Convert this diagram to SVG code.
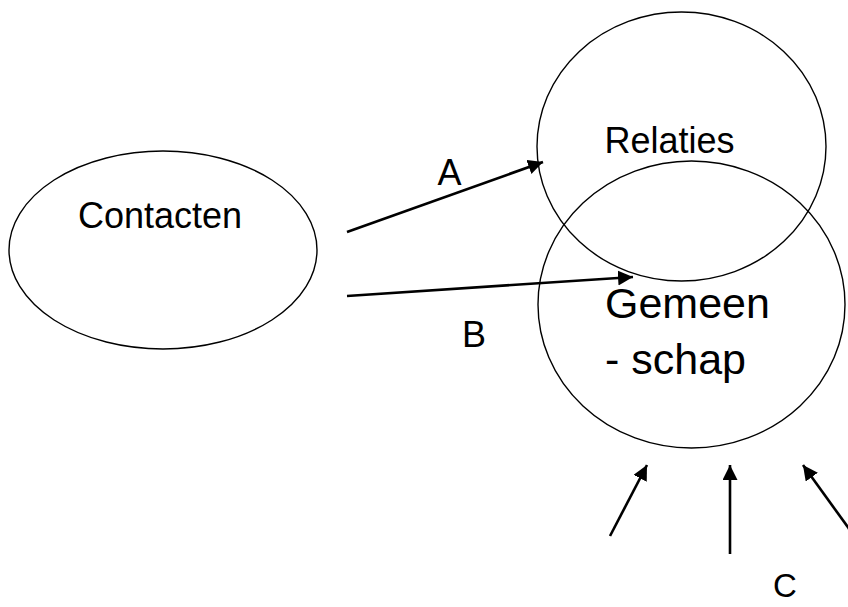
<svg xmlns="http://www.w3.org/2000/svg" width="848" height="607" viewBox="0 0 848 607">
<defs>
<style>
.node{fill:none;stroke:#000;stroke-width:1.4}
.lbl{font-family:"Liberation Sans",Arial,sans-serif;font-size:36px;fill:#000}
.edge{stroke:#000;stroke-width:2.6;fill:none;marker-end:url(#ah)}
</style>
<marker id="ah" markerUnits="userSpaceOnUse" markerWidth="16" markerHeight="16" refX="15" refY="7.5" orient="auto">
<path d="M0,0 L15,7.5 L0,15 z" fill="#000"/>
</marker>
</defs>
<rect width="848" height="607" fill="#fff"/>
<g id="contacten">
<ellipse class="node" cx="163" cy="250" rx="154" ry="99"/>
<text class="lbl" x="160" y="228" text-anchor="middle">Contacten</text>
</g>
<g id="relaties">
<ellipse class="node" cx="681.5" cy="146.5" rx="144.5" ry="134.5"/>
<text class="lbl" x="669.5" y="153" text-anchor="middle">Relaties</text>
</g>
<g id="gemeenschap">
<ellipse class="node" cx="691.5" cy="304.5" rx="153.5" ry="143.5"/>
<text class="lbl" x="605" y="318" style="font-size:43px">Gemeen</text>
<text class="lbl" x="605" y="374" style="font-size:43px">- schap</text>
</g>
<g id="connectors">
<line class="edge" x1="347" y1="232" x2="543" y2="162"/>
<line class="edge" x1="347" y1="296" x2="633" y2="277"/>
<line class="edge" x1="610" y1="536" x2="647" y2="465"/>
<line class="edge" x1="730" y1="554" x2="730" y2="465"/>
<line class="edge" x1="855" y1="537" x2="803" y2="465"/>
</g>
<g id="labels">
<text class="lbl" x="449.5" y="185" text-anchor="middle">A</text>
<text class="lbl" x="474" y="347" text-anchor="middle">B</text>
<text class="lbl" x="785" y="597" text-anchor="middle" style="font-size:33px">C</text>
</g>
</svg>
